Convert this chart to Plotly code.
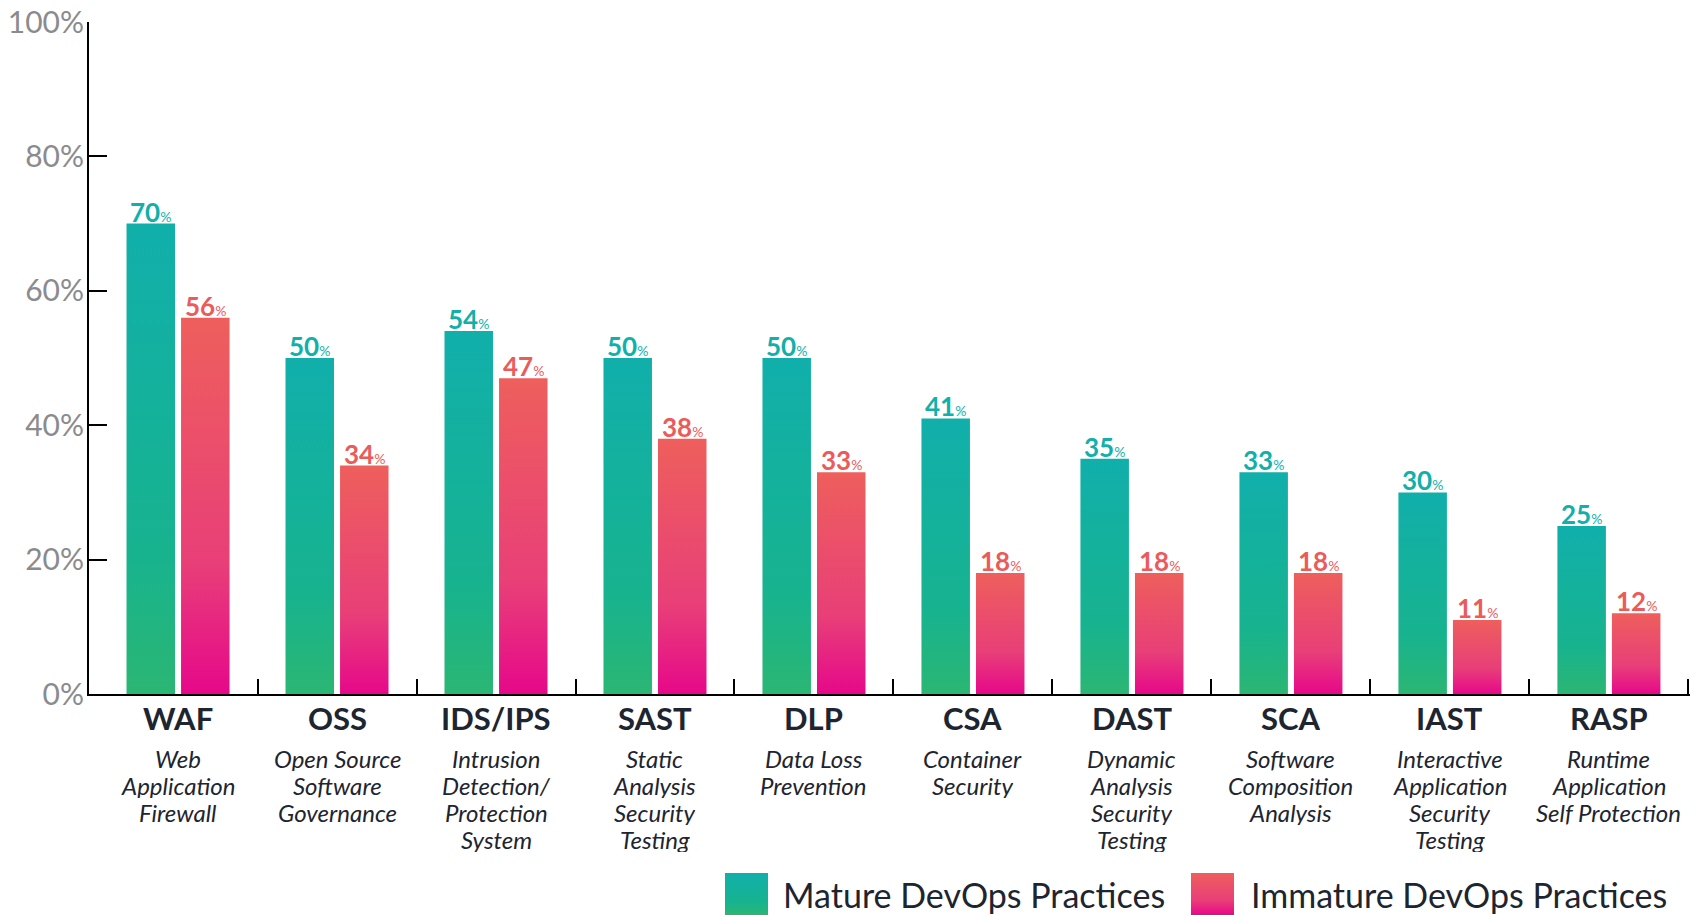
import plotly.graph_objects as go

# ---- data ----
abbrevs = ["WAF", "OSS", "IDS/IPS", "SAST", "DLP", "CSA", "DAST", "SCA", "IAST", "RASP"]
descriptions = [
    ["Web", "Application", "Firewall"],
    ["Open Source", "Software", "Governance"],
    ["Intrusion", "Detection/", "Protection", "System"],
    ["Static", "Analysis", "Security", "Testing"],
    ["Data Loss", "Prevention"],
    ["Container", "Security"],
    ["Dynamic", "Analysis", "Security", "Testing"],
    ["Software", "Composition", "Analysis"],
    ["Interactive", "Application", "Security", "Testing"],
    ["Runtime", "Application", "Self Protection"],
]
mature = [70, 50, 54, 50, 50, 41, 35, 33, 30, 25]
immature = [56, 34, 47, 38, 33, 18, 18, 18, 11, 12]
series_names = ["Mature DevOps Practices", "Immature DevOps Practices"]
y_ticks = [0, 20, 40, 60, 80, 100]

# ---- styles ----
TEAL_SCALE = [[0, "#2bb673"], [0.3, "#17b38f"], [1, "#11afab"]]
RED_SCALE = [[0, "#e6088a"], [0.35, "#e83f78"], [1, "#ee5f5c"]]
TEAL_TXT = "#12b0aa"
RED_TXT = "#ec5a5a"
DARK = "#1d2530"
FONT = "Lato"
BAR_W = 0.305
HALF_GAP = 0.019

W, H = 1701, 915
ML, MR, MT = 89, 11, 22
AXIS_Y = 694                      # pixel row of the x axis
PH = H - MT                       # paper height (bottom margin = 0)
PW = W - ML - MR
Y_DOM0 = (H - AXIS_Y) / PH

fig = go.Figure()

series = [
    (series_names[0], mature, TEAL_SCALE, TEAL_TXT, -1),
    (series_names[1], immature, RED_SCALE, RED_TXT, 1),
]

for name, vals, scale, txtcol, side in series:
    for i, v in enumerate(vals):
        if side < 0:
            x0, x1 = i - HALF_GAP - BAR_W, i - HALF_GAP
        else:
            x0, x1 = i + HALF_GAP, i + HALF_GAP + BAR_W
        fig.add_trace(go.Scatter(
            x=[x0, x0, x1, x1, x0],
            y=[0, v, v, 0, 0],
            mode="lines",
            line=dict(width=0),
            fill="toself",
            fillgradient=dict(type="vertical", colorscale=scale, start=0, stop=v),
            name=name,
            showlegend=False,
            hoverinfo="skip",
        ))
        fig.add_annotation(
            x=(x0 + x1) / 2, y=v, xref="x", yref="y",
            text=f"<b>{v}</b><span style='font-size:14px'>%</span>",
            showarrow=False, yanchor="bottom", yshift=-6,
            font=dict(family=FONT, size=26, color=txtcol),
        )

# category labels
for i, (ab, lines) in enumerate(zip(abbrevs, descriptions)):
    fig.add_annotation(
        x=i, y=0, xref="x", yref="y domain", yanchor="middle", yshift=-24,
        height=32, borderpad=0,
        text=f"<b>{ab}</b>", showarrow=False,
        font=dict(family=FONT, size=31, color=DARK),
    )
    for k, ln in enumerate(lines):
        fig.add_annotation(
            x=i, y=0, xref="x", yref="y domain", yanchor="middle",
            yshift=-64 - 27 * k, height=26, borderpad=0,
            text=f"<i>{ln}</i>", showarrow=False,
            font=dict(family=FONT, size=24, color=DARK),
        )

# custom legend (gradient swatches on small helper axes)
swatches = [
    (725, 768, 781, series_names[0], TEAL_SCALE, "2"),
    (1191, 1234, 1249, series_names[1], RED_SCALE, "3"),
]
for sx0, sx1, tx, name, scale, ax in swatches:
    fig.add_trace(go.Scatter(
        x=[0, 0, 1, 1, 0], y=[0, 1, 1, 0, 0],
        xaxis="x" + ax, yaxis="y" + ax,
        mode="lines", line=dict(width=0), fill="toself",
        fillgradient=dict(type="vertical", colorscale=scale, start=0, stop=1),
        showlegend=False, hoverinfo="skip", name=name,
    ))
    fig.layout["xaxis" + ax] = dict(
        domain=[(sx0 - ML) / PW, (sx1 - ML) / PW], range=[0, 1],
        visible=False, anchor="y" + ax, fixedrange=True,
    )
    fig.layout["yaxis" + ax] = dict(
        domain=[0, (H - 873) / PH], range=[0, 1],
        visible=False, anchor="x" + ax, fixedrange=True,
    )
    fig.add_annotation(
        x=(tx - ML) / PW, y=(H - 894) / PH, xref="paper", yref="paper",
        xanchor="left", yanchor="middle", text=name, showarrow=False,
        font=dict(family=FONT, size=34, color=DARK),
    )

n = len(abbrevs)
fig.update_layout(
    width=W, height=H,
    margin=dict(l=ML, r=MR, t=MT, b=0),
    plot_bgcolor="white", paper_bgcolor="white",
    font=dict(family=FONT),
    showlegend=False,
    xaxis=dict(
        range=[-0.56, n - 0.49],
        tickvals=[i + 0.5 for i in range(n)],
        showticklabels=False,
        ticks="inside", ticklen=15, tickwidth=2, tickcolor="black",
        showline=True, linecolor="black", linewidth=2,
        showgrid=False, zeroline=False, fixedrange=True, automargin=False,
    ),
    yaxis=dict(
        domain=[Y_DOM0, 1],
        range=[0, 100],
        tickvals=y_ticks,
        ticktext=[f"{t}%" for t in y_ticks],
        ticks="inside", ticklen=18, tickwidth=2, tickcolor="black",
        tickfont=dict(family=FONT, size=30, color="#8b8b8f"),
        ticklabeloverflow="allow", ticklabelstandoff=-3,
        showline=True, linecolor="black", linewidth=2,
        showgrid=False, zeroline=False, fixedrange=True, automargin=False,
    ),
)

fig.write_html(
    "out.html",
    config={"displayModeBar": False},
    post_script="document.body.style.margin='0';",
)
